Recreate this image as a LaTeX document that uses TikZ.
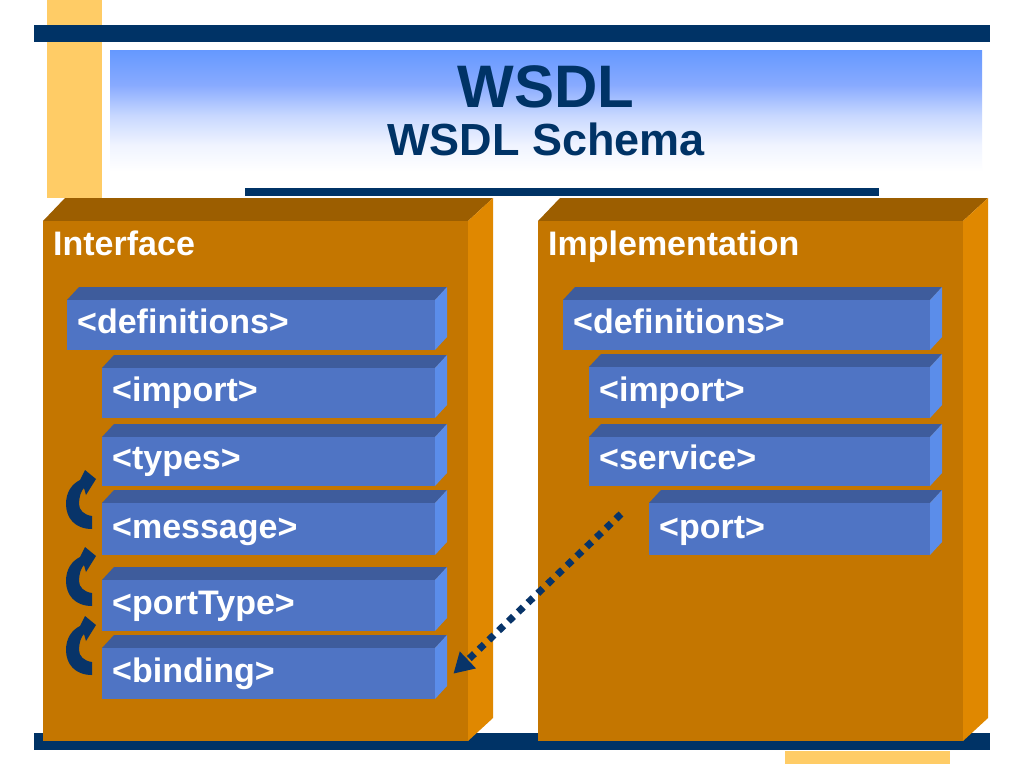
\documentclass[tikz,border=0pt]{standalone}
\usepackage{fontspec}
\setmainfont{Liberation Sans}
\usetikzlibrary{arrows.meta}
\definecolor{navy}{RGB}{0,51,102}
\definecolor{arrnavy}{RGB}{8,52,105}
\definecolor{sand}{RGB}{255,204,102}
\definecolor{ofront}{RGB}{196,118,0}
\definecolor{otop}{RGB}{156,94,0}
\definecolor{oside}{RGB}{224,136,0}
\definecolor{bfrontc}{RGB}{79,116,196}
\definecolor{btopc}{RGB}{62,92,156}
\definecolor{bsidec}{RGB}{91,141,234}
\definecolor{tb1}{RGB}{102,153,255}
\definecolor{tb2}{RGB}{136,170,255}
\definecolor{tb3}{RGB}{200,216,255}
\definecolor{tb4}{RGB}{240,244,255}
% the path's box is filled by the 25bp..75bp part of the shading
\pgfdeclareverticalshading{titlegrad}{100bp}{color(0bp)=(white); color(34bp)=(white); color(43bp)=(tb4); color(53bp)=(tb3); color(63.5bp)=(tb2); color(75bp)=(tb1); color(100bp)=(tb1)}
\tikzset{
  bfront/.style={fill=bfrontc, draw=none, inner sep=0pt, anchor=north west},
  boxtext/.style={text=white, font=\bfseries\fontsize{34}{40}\selectfont, inner sep=0pt, anchor=base west},
  paneltext/.style={text=white, font=\bfseries\fontsize{34}{40}\selectfont, inner sep=0pt, anchor=base west},
  titletext/.style={text=navy, inner sep=0pt, anchor=base},
  dotarrow/.style={draw=arrnavy, line width=7pt, dash pattern=on 7pt off 6.5pt, -{Triangle[length=20pt,width=22pt]}},
}
% #1 name, #2 x1, #3 ytop(front), #4 x2, #5 ybottom, #6 text
\newcommand\wsbox[6]{%
  \fill[btopc] (#2,#3) -- (#2+12,#3-13) -- (#4+12,#3-13) -- (#4,#3) -- cycle;
  \fill[bsidec] (#4,#3) -- (#4+12,#3-13) -- (#4+12,#5-13) -- (#4,#5) -- cycle;
  \node[bfront, minimum width={(#4-#2)*1pt}, minimum height={(#5-#3)*1pt}] (#1) at (#2,#3) {};
  \node[boxtext] (#1-t) at ([xshift=10pt,yshift=17pt]#1.south west) {#6};
}
% #1 x1 front, #2 x2 front
\newcommand\panelbox[2]{%
  \fill[otop] (#1,221) -- (#1+22,198) -- (#2+25,198) -- (#2,221) -- cycle;
  \fill[oside] (#2,221) -- (#2+25,198) -- (#2+25,718) -- (#2,741) -- cycle;
  \fill[ofront] (#1,221) rectangle (#2,741);
}
\newcommand\bendarrow[1]{%
  \begin{scope}[shift={(0,#1)}]
  \fill[arrnavy] (92,529) .. controls (75,529) and (66,518) .. (66,504)
     .. controls (66,492) and (72,484) .. (80,480) -- (85,470) -- (96,479)
     -- (86,495) -- (84,488) .. controls (81,491) and (79,497) .. (79,504)
     .. controls (79,510) and (84,515) .. (92,516) -- cycle;
  \end{scope}
}
\begin{document}
\begin{tikzpicture}[x=1pt,y=-1pt]
\useasboundingbox[fill=white] (0,0) rectangle (1024,768);
% decorative bars
\fill[sand] (47,0) rectangle (102,198);
\fill[navy] (34,25) rectangle (990,42);
\shade[shading=titlegrad] (110,51) rectangle (982,198);
\fill[navy] (245,188) rectangle (879,196);
\fill[navy] (34,733) rectangle (990,750);
\fill[sand] (785,751) rectangle (950,764);
% title
\node[titletext, font=\bfseries\fontsize{60}{66}\selectfont] (title) at (546,107) {WSDL};
\node[titletext, font=\bfseries\fontsize{45}{50}\selectfont] (subtitle) at (546,155) {WSDL Schema};
% panels
\panelbox{43}{468}
\panelbox{538}{963}
\node[paneltext] (iface) at (53,255) {Interface};
\node[paneltext] (impl) at (548,255) {Implementation};
% left boxes
\wsbox{ldef}{67}{300}{435}{350}{<definitions>}
\wsbox{limp}{102}{368}{435}{418}{<import>}
\wsbox{ltyp}{102}{437}{435}{486}{<types>}
\wsbox{lmsg}{102}{503}{435}{555}{<message>}
\wsbox{lpt}{102}{580}{435}{631}{<portType>}
\wsbox{lbind}{102}{648}{435}{699}{<binding>}
% right boxes
\wsbox{rdef}{563}{300}{930}{350}{<definitions>}
\wsbox{rimp}{589}{367}{930}{418}{<import>}
\wsbox{rsvc}{589}{437}{930}{486}{<service>}
\wsbox{rport}{649}{503}{930}{555}{<port>}
% curved arrows
\bendarrow{0}
\bendarrow{77}
\bendarrow{146}
% dotted arrow
\coordinate (src) at (621,514);
\draw[dotarrow] (src) -- ([xshift=18pt]lbind.east);
\end{tikzpicture}
\end{document}
